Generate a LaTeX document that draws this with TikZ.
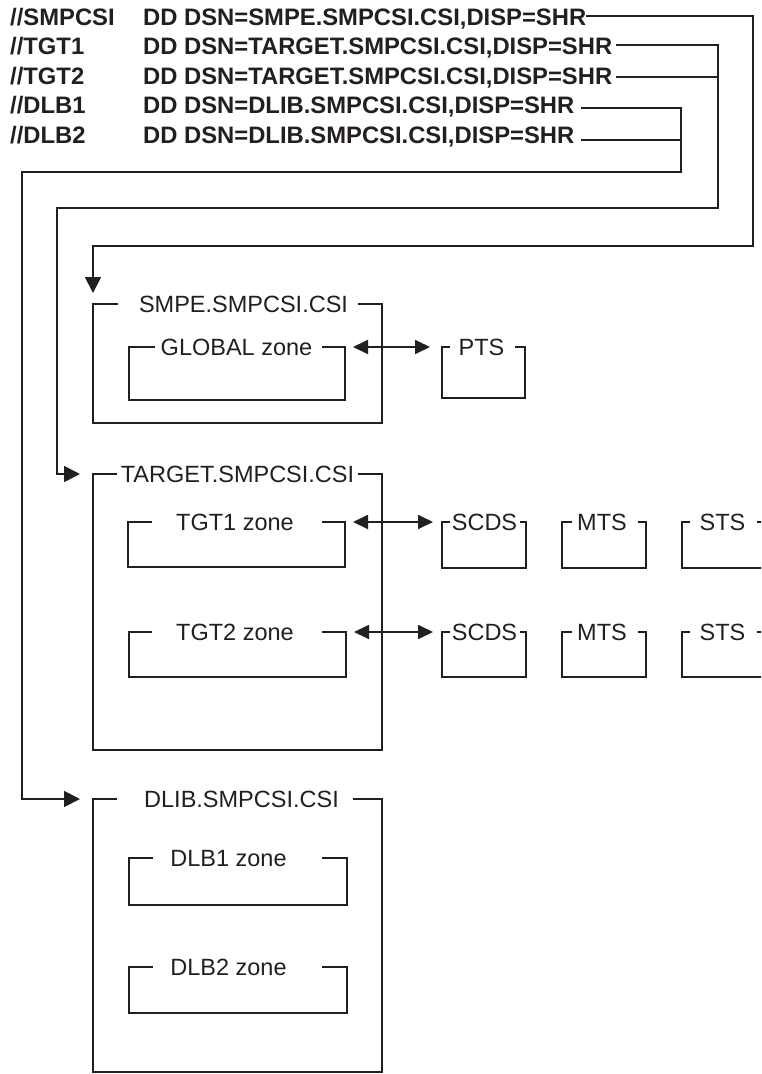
\documentclass[tikz,border=0pt]{standalone}
\usepackage{fontspec}
\setmainfont{Liberation Sans}
\usetikzlibrary{arrows.meta}
\definecolor{ink}{HTML}{231F20}
\tikzset{
  frame/.style={line width=1.8pt, draw=ink},
  conn/.style={line width=1.8pt, draw=ink},
  lbl/.style={font=\fontsize{23.5}{28}\selectfont, inner sep=0pt, text=ink},
  jcl/.style={font=\bfseries\fontsize{23.8}{28}\selectfont, inner sep=0pt, anchor=base west, text=ink},
  boxshape/.style={rectangle, inner sep=0pt, outer sep=0pt, draw=none},
  bigtip/.style={-{Triangle[length=16pt,width=16pt]}},
  dbltip/.style={{Triangle[length=15pt,width=14pt]}-{Triangle[length=15pt,width=14pt]}},
}
\newcommand\zonebox[9]{%
  \node[boxshape, minimum width={#4pt-#2pt}, minimum height={#5pt-#3pt}, anchor=north west] (#1) at (#2,#3) {};
  \draw[frame] (#6,#3) -- (#1.north west) -- (#1.south west) -- (#1.south east) -- (#1.north east) -- (#7,#3);
  \node[lbl, anchor=base] (#1-t) at (#8,#3+8.5) {#9};
}
\begin{document}
\begin{tikzpicture}[x=1pt,y=-1pt]
\clip (0,0) rectangle (761,1074);
\fill[white] (0,0) rectangle (761,1074);

% JCL text
\node[jcl] (jn1) at (10,25) {//SMPCSI};
\node[jcl] (dd1) at (143,25) {DD DSN=SMPE.SMPCSI.CSI,DISP=SHR};
\node[jcl] (jn2) at (10,54.5) {//TGT1};
\node[jcl] (dd2) at (143,54.5) {DD DSN=TARGET.SMPCSI.CSI,DISP=SHR};
\node[jcl] (jn3) at (10,84) {//TGT2};
\node[jcl] (dd3) at (143,84) {DD DSN=TARGET.SMPCSI.CSI,DISP=SHR};
\node[jcl] (jn4) at (10,113.5) {//DLB1};
\node[jcl] (dd4) at (143,113.5) {DD DSN=DLIB.SMPCSI.CSI,DISP=SHR};
\node[jcl] (jn5) at (10,143) {//DLB2};
\node[jcl] (dd5) at (143,143) {DD DSN=DLIB.SMPCSI.CSI,DISP=SHR};

% boxes: name, x1, y1, x2, y2, gapL, gapR, text x, label
\zonebox{smpe}{93}{304}{382}{423}{118}{358}{243.5}{SMPE.SMPCSI.CSI}
\zonebox{glob}{129}{347}{345}{400}{155}{322}{236.5}{GLOBAL zone}
\zonebox{pts}{442}{347}{525}{398}{450}{515}{481.5}{PTS}

\zonebox{target}{93}{474}{382}{750}{117}{358}{237.5}{TARGET.SMPCSI.CSI}
\zonebox{tgt1}{128}{522}{345}{567}{152}{322}{235}{TGT1 zone}
\zonebox{tgt2}{129}{632}{346}{677}{152}{322}{235}{TGT2 zone}
\zonebox{scdsa}{442}{522}{526}{568}{450}{520}{484.5}{SCDS}
\zonebox{mtsa}{562}{522}{646}{568}{572}{638}{602}{MTS}
\zonebox{stsa}{682}{522}{800}{568}{690}{757}{722.5}{STS}
\zonebox{scdsb}{442}{632}{526}{677}{450}{520}{484.5}{SCDS}
\zonebox{mtsb}{562}{632}{646}{677}{572}{638}{602}{MTS}
\zonebox{stsb}{682}{632}{800}{677}{690}{757}{722.5}{STS}

\zonebox{dlib}{93}{799}{382}{1072}{117}{353}{241.5}{DLIB.SMPCSI.CSI}
\zonebox{dlba}{129}{858}{347}{905}{153}{322}{228.5}{DLB1 zone}
\zonebox{dlbb}{129}{967}{347}{1013}{153}{322}{228.5}{DLB2 zone}

% double arrows to the data sets
\draw[conn, dbltip] ([xshift=8pt]glob.north east) -- ([xshift=-12pt]pts.north west);
\draw[conn, dbltip] ([xshift=8pt]tgt1.north east) -- ([xshift=-9pt]scdsa.north west);
\draw[conn, dbltip] ([xshift=8pt]tgt2.north east) -- ([xshift=-9pt]scdsb.north west);

% connectors from the DD statements
\coordinate (r1) at (753,16);
\coordinate (b1) at (753,246);
\coordinate (c1) at (93,246);
\draw[conn, bigtip] (dd1.east |- r1) -- (r1) -- (b1) -- (c1) -- ([yshift=11pt]smpe.north west);

\coordinate (r2) at (718,45);
\coordinate (j3) at (718,77);
\coordinate (b2) at (718,208);
\coordinate (c2) at (57,208);
\coordinate (d2) at (57,474);
\draw[conn, bigtip, shorten <=4pt] (dd2.east |- r2) -- (r2) -- (b2) -- (c2) -- (d2) -- ([xshift=-13pt]target.north west);
\draw[conn, shorten <=4pt] (dd3.east |- j3) -- (j3);

\coordinate (r3) at (681,108);
\coordinate (j5) at (681,140);
\coordinate (b3) at (681,172);
\coordinate (c3) at (22,172);
\coordinate (d3) at (22,799);
\draw[conn, bigtip, shorten <=6pt] (dd4.east |- r3) -- (r3) -- (b3) -- (c3) -- (d3) -- ([xshift=-13pt]dlib.north west);
\draw[conn, shorten <=6pt] (dd5.east |- j5) -- (j5);
\end{tikzpicture}
\end{document}
